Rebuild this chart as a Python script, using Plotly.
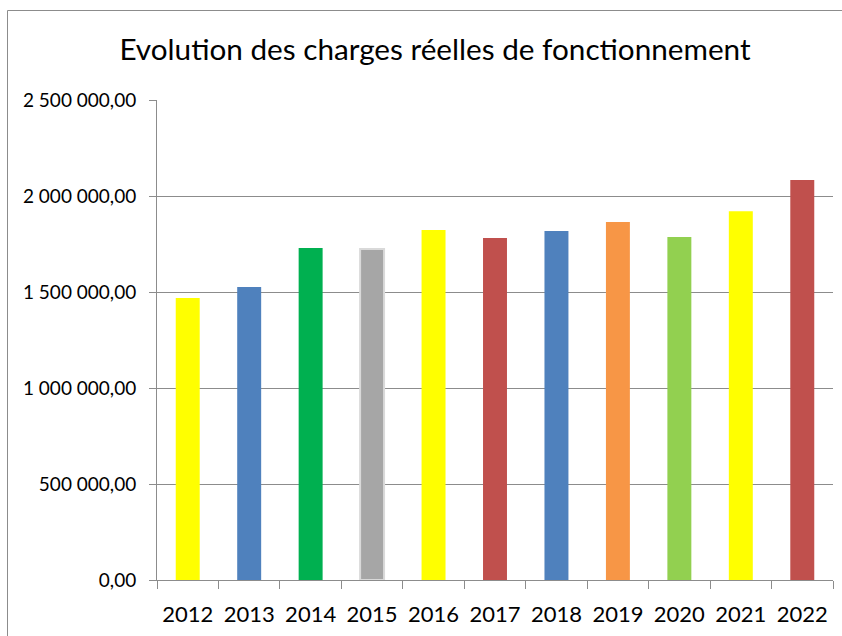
import plotly.graph_objects as go

years = ["2012", "2013", "2014", "2015", "2016", "2017", "2018", "2019", "2020", "2021", "2022"]
charges = [1469000, 1526000, 1729000, 1724000, 1823000, 1781000, 1818000, 1865000, 1786000, 1920000, 2083000]
bar_colors = ["#FFFF00", "#4F81BD", "#00B050", "#A6A6A6", "#FFFF00", "#C0504D",
              "#4F81BD", "#F79646", "#92D050", "#FFFF00", "#C0504D"]
line_colors = ["#FFFF00", "#4F81BD", "#00B050", "#D9D9D9", "#FFFF00", "#C0504D",
               "#4F81BD", "#F79646", "#92D050", "#FFFF00", "#C0504D"]
line_widths = [0, 0, 0, 2, 0, 0, 0, 0, 0, 0, 0]
title_text = "Evolution des charges réelles de fonctionnement"
y_ticks = [0, 500000, 1000000, 1500000, 2000000, 2500000]

FONT = "Lato, Open Sans, sans-serif"

fig = go.Figure(go.Bar(
    x=years, y=charges,
    marker=dict(color=bar_colors, line=dict(color=line_colors, width=line_widths)),
    width=0.39,
))

W, H = 842, 636
L, R, T, B = 157, 9, 100, 56
pw, ph = W - L - R, H - T - B

def px2x(px):
    return (px - L) / pw

def py2y(py):
    return 1 - (py - T) / ph

fig.update_layout(
    width=W, height=H,
    margin=dict(l=L, r=R, t=T, b=B, autoexpand=False),
    paper_bgcolor="white", plot_bgcolor="white",
    separators=", ",
    showlegend=False,
    font=dict(family=FONT, color="#000000"),
    title=dict(text=title_text, x=435 / W, xanchor="center", y=1 - 50 / H, yanchor="middle",
               font=dict(size=29.7, family=FONT, color="#000000")),
    bargap=0.6,
    shapes=[dict(type="rect", xref="paper", yref="paper",
                 x0=px2x(7.5), x1=px2x(860), y0=py2y(660), y1=py2y(10.5),
                 line=dict(color="#8C8C8C", width=1), fillcolor="rgba(0,0,0,0)", layer="below")],
)

fig.update_yaxes(
    range=[0, 2500000], tickvals=y_ticks, tickformat=",.2f",
    showgrid=True, gridcolor="#8C8C8C", gridwidth=1,
    showline=True, linecolor="#8C8C8C", linewidth=1,
    ticks="outside", ticklen=7, tickcolor="#8C8C8C",
    tickfont=dict(size=19, family=FONT, color="#000000"),
    ticklabelstandoff=9,
    zeroline=False,
)
fig.update_xaxes(
    showline=True, linecolor="#8C8C8C", linewidth=1,
    ticks="outside", ticklen=8, tickcolor="#8C8C8C", tickson="boundaries",
    tickfont=dict(size=22, family=FONT, color="#000000"),
    tickangle=0,
    ticklabelstandoff=15,
    showgrid=False,
)

fig.write_html("out.html", config={"displayModeBar": False},
               post_script="document.body.style.margin='0px';")
